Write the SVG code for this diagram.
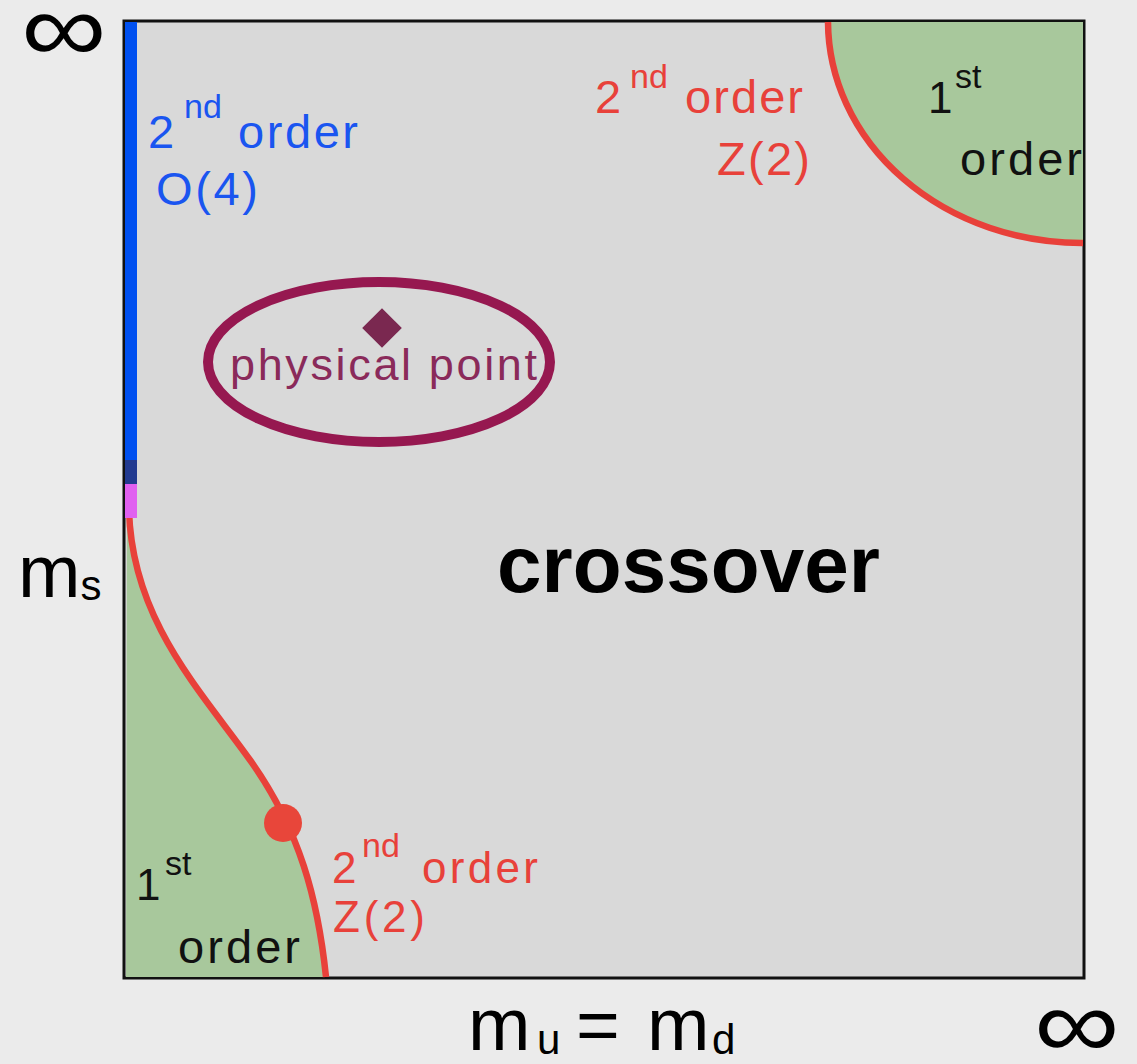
<svg xmlns="http://www.w3.org/2000/svg" width="1137" height="1064" viewBox="0 0 1137 1064">
<style>
.ax{font-family:"Liberation Sans",Arial,sans-serif;fill:#000}
.lb{font-family:"Liberation Sans",Arial,sans-serif}
.blue{fill:#1a55f0}
.red{fill:#e8413a}
.blk{fill:#111}
.green{fill:#a8c89c}
.crit{fill:none;stroke:#e8413a;stroke-width:6.5}
</style>
<rect x="0" y="0" width="1137" height="1064" fill="#ebebeb"/>
<g id="plot">
<rect x="124" y="21" width="960" height="957" fill="#d9d9d9" stroke="#111" stroke-width="3"/>
</g>
<g id="region-top-right">
<path class="green" d="M828 22 A254 222 0 0 0 1083 243 L1083 22 Z"/>
</g>
<g id="region-bottom-left">
<path class="green" d="M127 510 C130 620 200 690 250 760 S318 900 326 977 L126 977 Z"/>
</g>
<g id="connectors">
<path class="crit" d="M828 22 A254 222 0 0 0 1083 243"/>
<path class="crit" d="M129 510 C132 620 200 690 250 760 S318 900 326 977"/>
<rect x="125" y="22" width="12" height="438" fill="#0050f0"/>
<rect x="125" y="460" width="12" height="24" fill="#223a90"/>
<rect x="125" y="484" width="12" height="34" fill="#e060f0"/>
<circle cx="283" cy="823" r="19" fill="#e8463a"/>
</g>
<g id="label-blue">
<text class="lb blue" x="148" y="148" font-size="47">2</text>
<text class="lb blue" x="184" y="118" font-size="34">nd</text>
<text class="lb blue" x="238" y="148" font-size="47" textLength="120" lengthAdjust="spacing">order</text>
<text class="lb blue" x="156" y="205" font-size="47" textLength="102" lengthAdjust="spacing">O(4)</text>
</g>
<g id="label-red-top">
<text class="lb red" x="595" y="113" font-size="47">2</text>
<text class="lb red" x="630" y="88" font-size="34">nd</text>
<text class="lb red" x="685" y="113" font-size="47" textLength="118" lengthAdjust="spacing">order</text>
<text class="lb red" x="717" y="175" font-size="47" textLength="93" lengthAdjust="spacing">Z(2)</text>
</g>
<g id="label-first-top">
<text class="lb blk" x="928" y="113" font-size="44">1</text>
<text class="lb blk" x="955" y="88" font-size="34">st</text>
<text class="lb blk" x="960" y="175" font-size="47" textLength="122" lengthAdjust="spacing">order</text>
</g>
<g id="physical-point">
<ellipse cx="379" cy="362" rx="171" ry="80" fill="none" stroke="#961850" stroke-width="10"/>
<rect x="368" y="314" width="28" height="28" fill="#7a2850" transform="rotate(45 382 328)"/>
<text class="lb" x="230" y="380" font-size="45" fill="#8a2a5a" textLength="307" lengthAdjust="spacing">physical point</text>
</g>
<g id="label-crossover">
<text x="497" y="592" font-family="Liberation Sans,Arial,sans-serif" font-weight="bold" font-size="80" fill="#000" textLength="383" lengthAdjust="spacing">crossover</text>
</g>
<g id="label-first-bottom">
<text class="lb blk" x="136" y="900" font-size="44">1</text>
<text class="lb blk" x="165" y="875" font-size="34">st</text>
<text class="lb blk" x="178" y="963" font-size="47" textLength="122" lengthAdjust="spacing">order</text>
</g>
<g id="label-red-bottom">
<text class="lb red" x="332" y="883" font-size="44">2</text>
<text class="lb red" x="362" y="857" font-size="34">nd</text>
<text class="lb red" x="422" y="883" font-size="44" textLength="116" lengthAdjust="spacing">order</text>
<text class="lb red" x="333" y="932" font-size="44" textLength="92" lengthAdjust="spacing">Z(2)</text>
</g>
<g id="axes">
<text class="ax" font-size="100" transform="translate(21 62) scale(1.2 1)">∞</text>
<text class="ax" font-size="100" transform="translate(1034 1058) scale(1.2 1)">∞</text>
<text class="ax" x="18" y="597" font-size="75">m<tspan font-size="42" dy="3">s</tspan></text>
<text class="ax" x="468" y="1050" font-size="75">m</text>
<text class="ax" x="537" y="1054" font-size="42">u</text>
<text class="ax" x="576" y="1050" font-size="75">=</text>
<text class="ax" x="647" y="1050" font-size="75">m</text>
<text class="ax" x="712" y="1054" font-size="42">d</text>
</g>
</svg>
